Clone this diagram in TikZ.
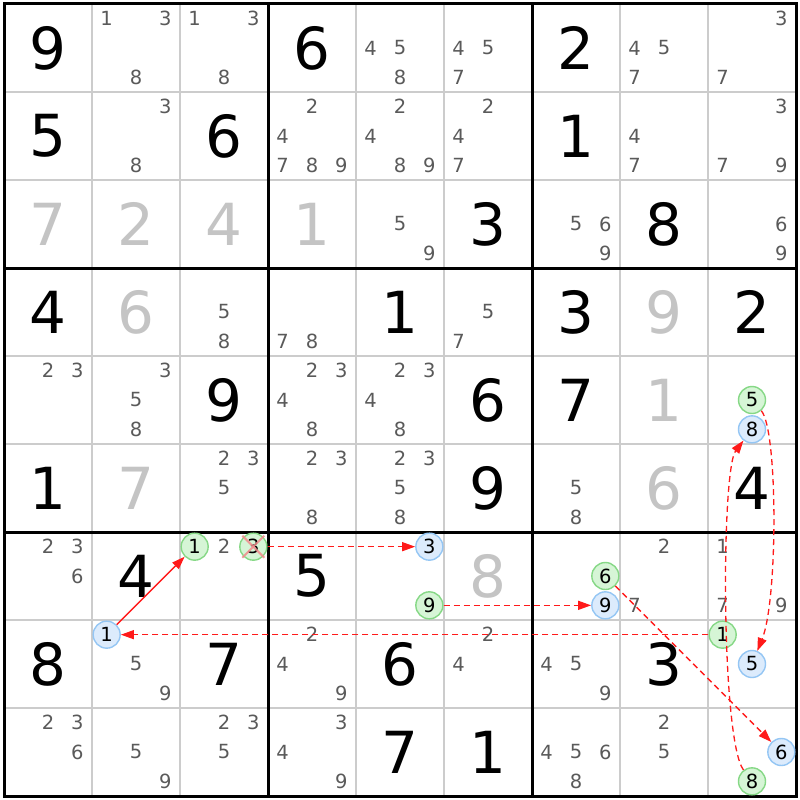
\documentclass[tikz,border=0pt]{standalone}
\usepackage{fontspec}
\setmainfont{DejaVu Sans}
\usetikzlibrary{arrows.meta}
\definecolor{candgray}{HTML}{5A5A5A}
\definecolor{givengray}{HTML}{C4C4C4}
\definecolor{gridgray}{HTML}{CCCCCC}
\definecolor{gfill}{HTML}{D6F5D6}
\definecolor{gline}{HTML}{86D886}
\definecolor{bfill}{HTML}{DCEBFC}
\definecolor{bline}{HTML}{94C6F4}
\definecolor{xpink}{HTML}{F28C8C}
\definecolor{linkred}{HTML}{FF1A1A}
\tikzset{
  given/.style={inner sep=0pt, font=\fontsize{58}{58}\selectfont},
  cand/.style={inner sep=0pt, text=candgray, font=\fontsize{19.5}{19.5}\selectfont},
  gcirc/.style={circle, draw=gline, fill=gfill, line width=1.4pt, minimum size=27pt, inner sep=0pt, text=black, font=\fontsize{19.5}{19.5}\selectfont},
  bcirc/.style={circle, draw=bline, fill=bfill, line width=1.4pt, minimum size=27pt, inner sep=0pt, text=black, font=\fontsize{19.5}{19.5}\selectfont},
  link/.style={draw=linkred, line width=1.3pt, -{Triangle[length=13pt,width=9pt]}},
  dlink/.style={link, dash pattern=on 6pt off 4pt},
  thingrid/.style={draw=gridgray, line width=1.3pt},
  thickgrid/.style={draw=black, line width=3pt},
  xmark/.style={draw=xpink, line width=2pt, opacity=0.85}
}
\begin{document}
\begin{tikzpicture}[x=1pt,y=-1pt]
\useasboundingbox (0,0) rectangle (800,800);
\fill[white] (0,0) rectangle (800,800);
% thin grid lines
\foreach \i in {1,2,4,5,7,8} {
  \draw[thingrid] ({4+88*\i},4) -- ({4+88*\i},796);
  \draw[thingrid] (4,{4+88*\i}) -- (796,{4+88*\i});
}
% thick box lines
\foreach \i in {3,6} {
  \draw[thickgrid] ({4+88*\i},4) -- ({4+88*\i},796);
  \draw[thickgrid] (4,{4+88*\i}) -- (796,{4+88*\i});
}
\draw[thickgrid] (4,4) rectangle (796,796);
% given digits
\foreach \r/\c/\d/\col in {
  0/0/9/black, 0/3/6/black, 0/6/2/black,
  1/0/5/black, 1/2/6/black, 1/6/1/black,
  2/0/7/givengray, 2/1/2/givengray, 2/2/4/givengray, 2/3/1/givengray, 2/5/3/black, 2/7/8/black,
  3/0/4/black, 3/1/6/givengray, 3/4/1/black, 3/6/3/black, 3/7/9/givengray, 3/8/2/black,
  4/2/9/black, 4/5/6/black, 4/6/7/black, 4/7/1/givengray,
  5/0/1/black, 5/1/7/givengray, 5/5/9/black, 5/7/6/givengray, 5/8/4/black,
  6/1/4/black, 6/3/5/black, 6/5/8/givengray,
  7/0/8/black, 7/2/7/black, 7/4/6/black, 7/7/3/black,
  8/4/7/black, 8/5/1/black}
  \node[given, text=\col] (v\r\c) at ({48+88*\c},{48+88*\r}) {\d};
% plain candidates
\foreach \r/\c/\ds in {
  0/1/{1,3,8}, 0/2/{1,3,8}, 0/4/{4,5,8}, 0/5/{4,5,7}, 0/7/{4,5,7}, 0/8/{3,7},
  1/1/{3,8}, 1/3/{2,4,7,8,9}, 1/4/{2,4,8,9}, 1/5/{2,4,7}, 1/7/{4,7}, 1/8/{3,7,9},
  2/4/{5,9}, 2/6/{5,6,9}, 2/8/{6,9},
  3/2/{5,8}, 3/3/{7,8}, 3/5/{5,7},
  4/0/{2,3}, 4/1/{3,5,8}, 4/3/{2,3,4,8}, 4/4/{2,3,4,8},
  5/2/{2,3,5}, 5/3/{2,3,8}, 5/4/{2,3,5,8}, 5/6/{5,8},
  6/0/{2,3,6}, 6/2/{2}, 6/7/{2,7}, 6/8/{1,7,9},
  7/1/{5,9}, 7/3/{2,4,9}, 7/5/{2,4}, 7/6/{4,5,9},
  8/0/{2,3,6}, 8/1/{5,9}, 8/2/{2,3,5}, 8/3/{3,4,9}, 8/6/{4,5,6,8}, 8/7/{2,5}}
{
  \foreach \d in \ds
    \node[cand] (c\r\c\d) at ({18.667+88*\c+29.333*mod(\d-1,3)},{18.667+88*\r+29.333*int((\d-1)/3)}) {\d};
}
% circled candidates
\foreach \r/\c/\d/\sty/\nm in {
  4/8/5/gcirc/gfive, 4/8/8/bcirc/beight,
  6/2/1/gcirc/gonea, 6/2/3/gcirc/gthree,
  6/4/3/bcirc/bthree, 6/4/9/gcirc/gnine,
  6/6/6/gcirc/gsix, 6/6/9/bcirc/bnine,
  7/1/1/bcirc/bone,
  7/8/1/gcirc/goneb, 7/8/5/bcirc/bfive,
  8/8/6/bcirc/bsix, 8/8/8/gcirc/geight}
  \node[\sty] (\nm) at ({18.667+88*\c+29.333*mod(\d-1,3)},{18.667+88*\r+29.333*int((\d-1)/3)}) {\d};
% cross over eliminated 3
\draw[xmark] ([shift={(-11,-11)}]gthree.center) -- ([shift={(11,11)}]gthree.center);
\draw[xmark] ([shift={(-11,11)}]gthree.center) -- ([shift={(11,-11)}]gthree.center);
% links
\draw[link] (bone) -- (gonea);
\draw[dlink] (gthree) -- (bthree);
\draw[dlink] (gnine.east) -- (bnine.west);
\draw[dlink] (gsix) -- (bsix);
\draw[dlink] (geight) .. controls (721,740) and (721,470) .. (beight);
\draw[dlink] (gfive) .. controls (778,430) and (778,600) .. (bfive);
\draw[dlink] (goneb) -- (bone);
\end{tikzpicture}
\end{document}
